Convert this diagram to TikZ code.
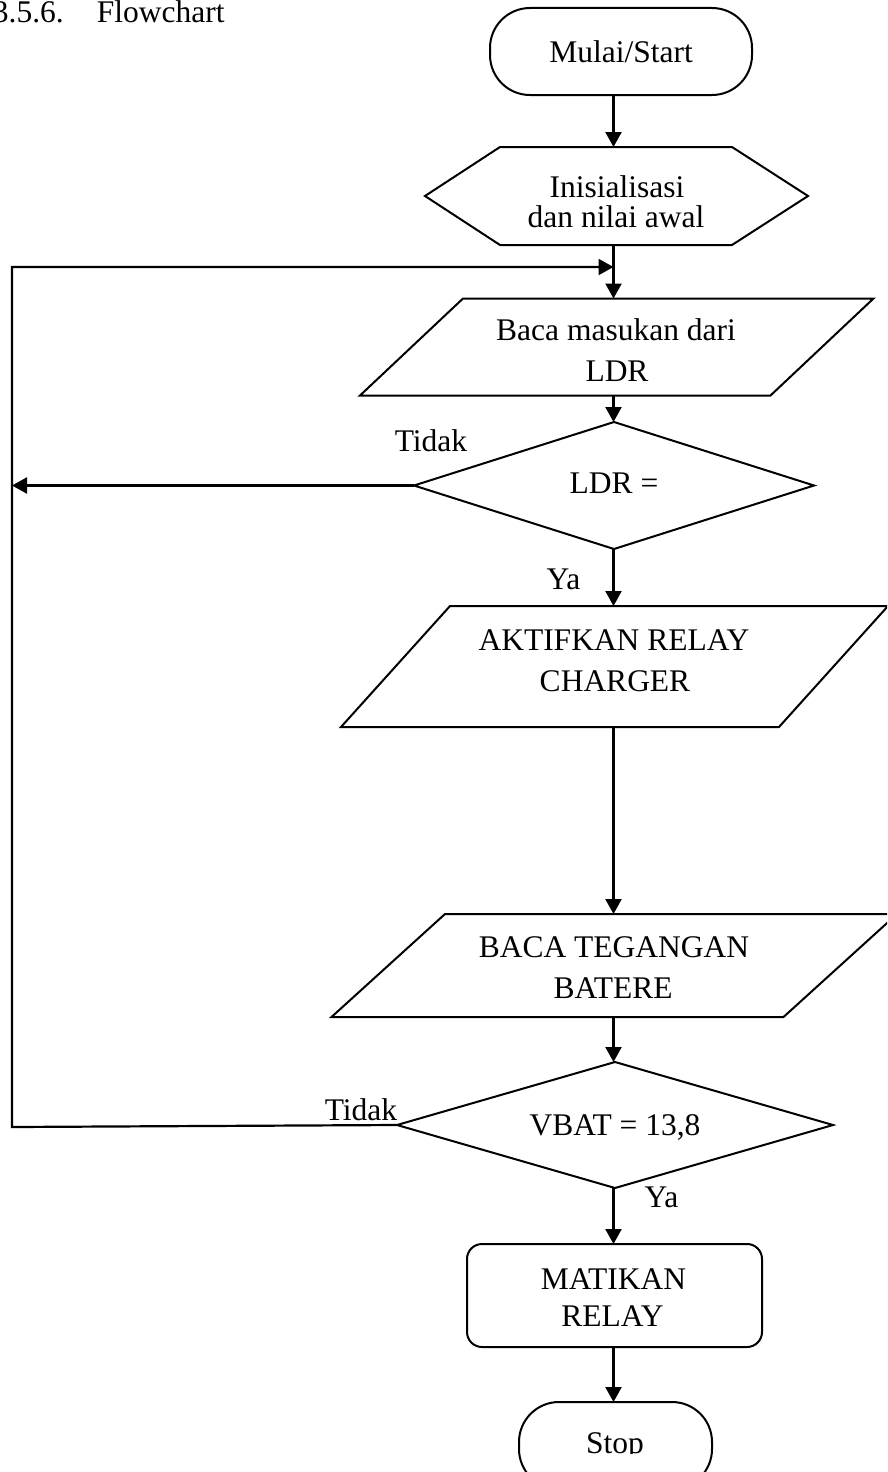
\documentclass[tikz,border=0pt]{standalone}
\usepackage{fontspec}
\setmainfont{Liberation Serif}
\usetikzlibrary{arrows.meta,shapes.geometric}
\begin{document}
\begin{tikzpicture}[x=1pt,y=-1pt,
  every node/.style={font=\fontsize{31.5}{38}\selectfont, inner sep=0pt, outer sep=0pt},
  box/.style={draw, line width=2pt},
  lbl/.style={anchor=base},
  arr/.style={draw, line width=2.2pt, -{Triangle[length=15pt,width=16pt]}},
]
\useasboundingbox (0,0) rectangle (887,1472);
\clip (0,0) rectangle (887,1472);

\node[lbl, anchor=base west] (title) at (-7,23) {3.5.6.\hspace{33pt}Flowchart};

\coordinate (ax) at (613.5,0);

% Start
\node[box, rounded corners=40pt, minimum width=262pt, minimum height=87pt,
      text height=23pt, text depth=0pt] (start) at (621,51.5) {Mulai/Start};

% Initialisation (hexagon)
\node[minimum width=383pt, minimum height=98pt] (init) at (616.5,196) {};
\draw[box] (init.west) -- ([xshift=75pt]init.north west) -- ([xshift=-76pt]init.north east)
  -- (init.east) -- ([xshift=-76pt]init.south east) -- ([xshift=75pt]init.south west) -- cycle;
\node[lbl] (initA) at (617,197) {Inisialisasi};
\node[lbl] (initB) at (616,227) {dan nilai awal};

% Input LDR
\node[minimum width=513.5pt, minimum height=97pt] (p1) at (616.75,347) {};
\draw[box] ([xshift=103pt]p1.north west) -- (p1.north east) -- ([xshift=-103pt]p1.south east)
  -- (p1.south west) -- cycle;
\node[lbl] (p1A) at (616,340) {Baca masukan dari};
\node[lbl] (p1B) at (617,381) {LDR};

% Decision LDR
\node[box, diamond, shape aspect=3, minimum width=400pt, minimum height=127pt,
      text height=21pt, text depth=5pt] (d1) at (614,485.5) {LDR =};
\node[lbl] (tidak1) at (431,451) {Tidak};
\node[lbl] (ya1) at (563.5,589) {Ya};

% Relay charger
\node[minimum width=547pt, minimum height=121pt] (p2) at (614.5,666.5) {};
\draw[box] ([xshift=109pt]p2.north west) -- (p2.north east) -- ([xshift=-109pt]p2.south east)
  -- (p2.south west) -- cycle;
\node[lbl] (p2A) at (614,650) {AKTIFKAN RELAY};
\node[lbl] (p2B) at (615,691) {CHARGER};

% Read battery voltage
\node[minimum width=565.5pt, minimum height=103pt] (p3) at (614.25,965.5) {};
\draw[box] ([xshift=113.5pt]p3.north west) -- (p3.north east) -- ([xshift=-113.5pt]p3.south east)
  -- (p3.south west) -- cycle;
\node[lbl] (p3A) at (614,957) {BACA TEGANGAN};
\node[lbl] (p3B) at (613,998.5) {BATERE};

% Decision VBAT
\node[box, diamond, shape aspect=3.5, minimum width=436pt, minimum height=126pt,
      text height=21pt, text depth=1pt] (d2) at (615,1125) {VBAT = 13,8};
\node[lbl] (tidak2) at (361,1120) {Tidak};
\node[lbl] (ya2) at (661.5,1207) {Ya};

% Relay off
\node[box, rounded corners=15pt, minimum width=295pt, minimum height=103pt] (m) at (614.5,1295.5) {};
\node[lbl] (mA) at (613.5,1289) {MATIKAN};
\node[lbl] (mB) at (612.5,1326) {RELAY};

% Stop
\node[box, rounded corners=40pt, minimum width=193pt, minimum height=87pt] (stop) at (615.5,1445.5) {};
\begin{scope}
  \clip (519,1400) rectangle (712,1453.5);
  \node[lbl] (stoptxt) at (615,1453) {Stop};
\end{scope}

% Connectors
\draw[arr] (start.south -| ax) -- (init.north -| ax);
\draw[arr] (init.south -| ax) -- (p1.north -| ax);
\draw[arr] (p1.south -| ax) -- (d1.north -| ax);
\draw[arr] (d1.south -| ax) -- (p2.north -| ax);
\draw[arr] (p2.south -| ax) -- (p3.north -| ax);
\draw[arr] (p3.south -| ax) -- (d2.north -| ax);
\draw[arr] (d2.south -| ax) -- (m.north -| ax);
\draw[arr] (m.south -| ax) -- (stop.north -| ax);

% Loop back
\coordinate (lb) at (12,1127);
\coordinate (lt) at (12,267);
\coordinate (join) at (613.5,267);
\draw[arr] (d2.west) -- (lb) -- (lt) -- (join);
\draw[arr] (d1.west) -- (d1.west -| lt);
\end{tikzpicture}
\end{document}
